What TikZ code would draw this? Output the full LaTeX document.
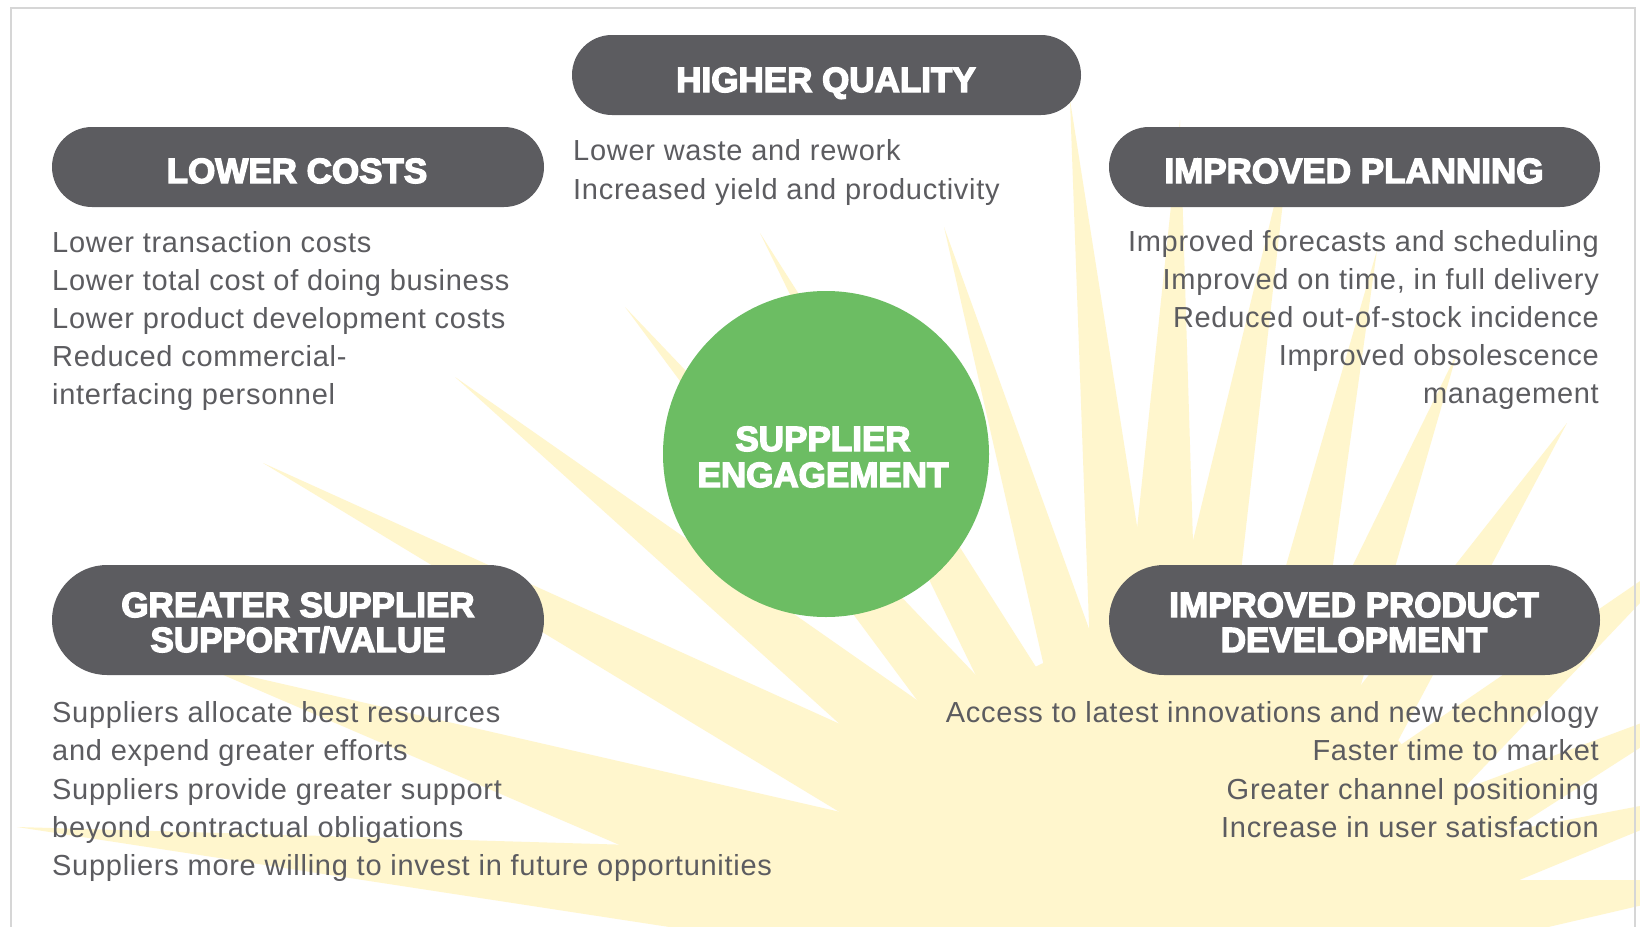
\documentclass[tikz,border=0pt]{standalone}
\usepackage{fontspec}
\setmainfont{Liberation Sans}
\newfontfamily\bodyfont{Liberation Sans}[LetterSpace=2.5]
\newfontfamily\headfont{Liberation Sans}[BoldFeatures={FakeBold=4}]
\usetikzlibrary{calc}

\definecolor{sunyellow}{RGB}{255,246,205}
\definecolor{pillgrey}{RGB}{92,92,96}
\definecolor{textgrey}{RGB}{92,92,96}
\definecolor{hubgreen}{RGB}{108,189,99}
\definecolor{framegrey}{RGB}{214,214,214}

\tikzset{
  pill/.style={draw=none, fill=pillgrey, rectangle, rounded corners=#1, inner sep=0pt},
  pilltitle/.style={anchor=base, inner sep=0pt, text=white, font=\headfont\bfseries\fontsize{35}{36}\selectfont},
  bodyleft/.style={anchor=base west, inner sep=0pt, text=textgrey, font=\bodyfont\fontsize{29}{38}\selectfont},
  bodyright/.style={anchor=base east, inner sep=0pt, text=textgrey, font=\bodyfont\fontsize{29}{38}\selectfont},
  hub/.style={circle, fill=hubgreen, draw=none, inner sep=0pt, minimum size=326pt},
  ray/.style={fill=sunyellow},
  frameline/.style={draw=framegrey, line width=1.5pt}
}

\begin{document}
\begin{tikzpicture}[x=1pt,y=-1pt]
\useasboundingbox (0,0) rectangle (1640,926);
\fill[white] (0,0) rectangle (1640,926);

% sunburst behind everything
\begin{scope}
  \clip (0,0) rectangle (1640,926);
  \coordinate (c0) at (1150,930);
  \coordinate (c1) at (1230,940);
  \coordinate (c2) at (1150,975);
  \foreach \tx/\ty/\w/\b in {
      17/827/70/c0, 200/665/90/c2, 263/463/60/c0, 455/377/55/c0,
      625/307/50/c0, 760/233/45/c0, 944/227/45/c0, 1070/100/50/c0,
      1180/120/55/c0, 1290/140/50/c0, 1377/250/50/c1, 1457/353/55/c1,
      1567/423/55/c1, 1700/540/65/c1, 1730/690/60/c1, 1750/785/55/c1,
      1750/880/60/c1} {
    \coordinate (t) at (\tx,\ty);
    \fill[ray] (t) -- ($(\b)!\w pt!90:(t)$) -- ($(\b)!\w pt!-90:(t)$) -- cycle;
  }
  \fill[ray] (1170,935) circle[radius=300];
\end{scope}

% frame
\draw[frameline] (11,930) -- (11,8) -- (1635,8) -- (1635,930);

% central hub
\node[hub] (hub) at (826,454) {};
\node[pilltitle] (hubA) at (823,451) {SUPPLIER};
\node[pilltitle] (hubB) at (823,487) {ENGAGEMENT};

% benefit pills
\node[pill=40pt, minimum width=509pt, minimum height=80pt] (hq) at (826.5,75) {};
\node[pilltitle] (hqT) at (826,92) {HIGHER QUALITY};

\node[pill=40pt, minimum width=492pt, minimum height=80pt] (lc) at (298,167) {};
\node[pilltitle] (lcT) at (297,183) {LOWER COSTS};

\node[pill=40pt, minimum width=491pt, minimum height=80pt] (ip) at (1354.5,167) {};
\node[pilltitle] (ipT) at (1354,183) {IMPROVED PLANNING};

\node[pill=55pt, minimum width=492pt, minimum height=110pt] (gs) at (298,620) {};
\node[pilltitle] (gsA) at (298,617) {GREATER SUPPLIER};
\node[pilltitle] (gsB) at (298,652) {SUPPORT/VALUE};

\node[pill=55pt, minimum width=491pt, minimum height=110pt] (pd) at (1354.5,620) {};
\node[pilltitle] (pdA) at (1354,617) {IMPROVED PRODUCT};
\node[pilltitle] (pdB) at (1354,652) {DEVELOPMENT};

% higher quality
\node[bodyleft] (hq1) at (573,160) {Lower waste and rework};
\node[bodyleft] (hq2) at (573,199) {Increased yield and productivity};

% lower costs
\node[bodyleft] (lc1) at (52,252) {Lower transaction costs};
\node[bodyleft] (lc2) at (52,290) {Lower total cost of doing business};
\node[bodyleft] (lc3) at (52,328) {Lower product development costs};
\node[bodyleft] (lc4) at (52,366) {Reduced commercial-};
\node[bodyleft] (lc5) at (52,404) {interfacing personnel};

% improved planning
\node[bodyright] (ip1) at (1599,251) {Improved forecasts and scheduling};
\node[bodyright] (ip2) at (1599,289) {Improved on time, in full delivery};
\node[bodyright] (ip3) at (1599,327) {Reduced out-of-stock incidence};
\node[bodyright] (ip4) at (1599,365) {Improved obsolescence};
\node[bodyright] (ip5) at (1599,403) {management};

% greater supplier support/value
\node[bodyleft] (gs1) at (52,722) {Suppliers allocate best resources};
\node[bodyleft] (gs2) at (52,760) {and expend greater efforts};
\node[bodyleft] (gs3) at (52,799) {Suppliers provide greater support};
\node[bodyleft] (gs4) at (52,837) {beyond contractual obligations};
\node[bodyleft] (gs5) at (52,875) {Suppliers more willing to invest in future opportunities};

% improved product development
\node[bodyright] (pd1) at (1599,722) {Access to latest innovations and new technology};
\node[bodyright] (pd2) at (1599,760) {Faster time to market};
\node[bodyright] (pd3) at (1599,799) {Greater channel positioning};
\node[bodyright] (pd4) at (1599,837) {Increase in user satisfaction};
\end{tikzpicture}
\end{document}
